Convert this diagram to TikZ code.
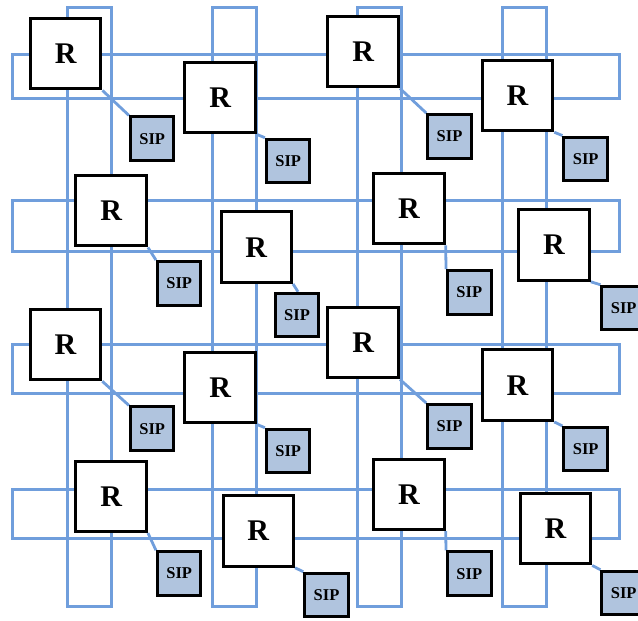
\documentclass[tikz,border=0pt]{standalone}
\usepackage{fontspec}
\setmainfont{Liberation Serif}
\usetikzlibrary{backgrounds}
\definecolor{bandblue}{RGB}{112,158,220}
\definecolor{sipfill}{RGB}{176,196,222}
\begin{document}
\begin{tikzpicture}[x=1pt,y=-1pt,
  band/.style={draw=bandblue,line width=2.8pt},
  link/.style={draw=bandblue,line width=2.8pt},
  router/.style={draw=black,fill=white,line width=3pt,minimum size=70.5pt,inner sep=0pt,
    font=\fontsize{30}{30}\selectfont\bfseries},
  sipbox/.style={draw=black,fill=sipfill,line width=3pt,minimum size=43.5pt,inner sep=0pt,
    font=\fontsize{16.5}{16.5}\selectfont\bfseries}]
\useasboundingbox (0,0) rectangle (638,621);
% vertical bands
\foreach \a/\b in {67.5/111.2, 212.2/256.2, 357.8/401.5, 502.2/546.5}
  \draw[band] (\a,7.5) rectangle (\b,606.2);
% horizontal bands
\foreach \a/\b in {54.2/98.5, 200.2/251.8, 344.8/393.5, 489.8/538.5}
  \draw[band] (12.5,\a) rectangle (619.8,\b);
% routers
\node[router] (r1) at (65.7,53.7) {R};
\node[router] (r2) at (220.2,97.7) {R};
\node[router] (r3) at (363.2,51.7) {R};
\node[router] (r4) at (517.5,95.5) {R};
\node[router] (r5) at (111.2,210.7) {R};
\node[router] (r6) at (256.3,247.2) {R};
\node[router] (r7) at (408.9,208.7) {R};
\node[router] (r8) at (554,245) {R};
\node[router] (r9) at (65.5,344.5) {R};
\node[router] (r10) at (220.2,387.7) {R};
\node[router] (r11) at (363.2,342.7) {R};
\node[router] (r12) at (517.5,385.2) {R};
\node[router] (r13) at (111.2,496.3) {R};
\node[router] (r14) at (258.3,531) {R};
\node[router] (r15) at (408.9,494.3) {R};
\node[router] (r16) at (555.5,528.7) {R};
% SIPs
\node[sipbox] (s1) at (152.2,138.7) {SIP};
\node[sipbox] (s2) at (288.2,161) {SIP};
\node[sipbox] (s3) at (449.5,136.3) {SIP};
\node[sipbox] (s4) at (585.7,158.8) {SIP};
\node[sipbox] (s5) at (179.2,283.3) {SIP};
\node[sipbox] (s6) at (297,315) {SIP};
\node[sipbox] (s7) at (469.3,292.3) {SIP};
\node[sipbox] (s8) at (623.7,308) {SIP};
\node[sipbox] (s9) at (152.2,428.7) {SIP};
\node[sipbox] (s10) at (288.2,451) {SIP};
\node[sipbox] (s11) at (449.5,426.3) {SIP};
\node[sipbox] (s12) at (585.7,449.2) {SIP};
\node[sipbox] (s13) at (179.2,573.5) {SIP};
\node[sipbox] (s14) at (326.5,595) {SIP};
\node[sipbox] (s15) at (469.3,573.7) {SIP};
\node[sipbox] (s16) at (623.7,593) {SIP};
% links, behind the boxes
\begin{scope}[on background layer]
\foreach \i in {1,2,3,4,5,7,8,9,10,11,12,13,14,15,16}
  \draw[link] (r\i.south east) -- (s\i.north west);
\draw[link] (r6.south east) -- ([xshift=1pt]s6.north);
\end{scope}
\end{tikzpicture}
\end{document}
